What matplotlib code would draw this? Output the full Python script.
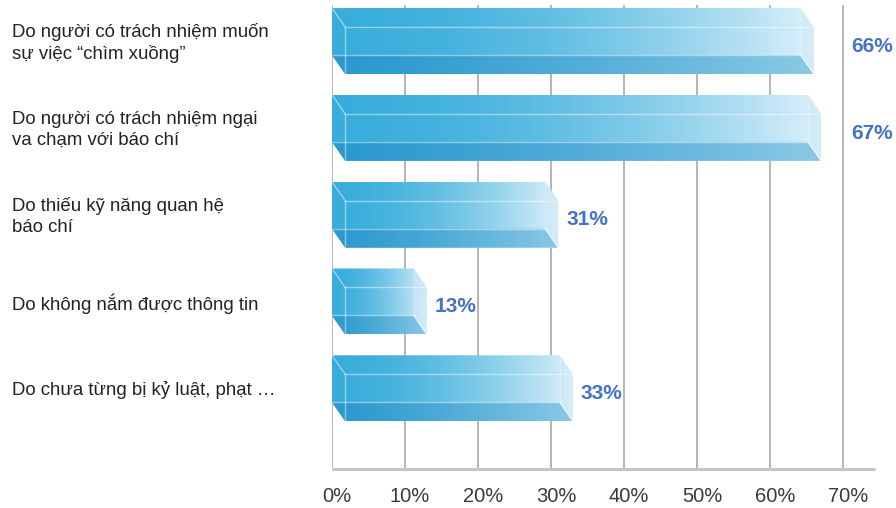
import numpy as np
import matplotlib
matplotlib.use("Agg")
import matplotlib.pyplot as plt
from matplotlib.patches import Polygon

plt.rcParams['font.family'] = ['Liberation Sans', 'DejaVu Sans']

# survey answers, top to bottom
categories = [
    "Do người có trách nhiệm muốn\nsự việc “chìm xuồng”",
    "Do người có trách nhiệm ngại\nva chạm với báo chí",
    "Do thiếu kỹ năng quan hệ\nbáo chí",
    "Do không nắm được thông tin",
    "Do chưa từng bị kỷ luật, phạt …",
]
values = [66, 67, 31, 13, 33]
ticks = [0, 10, 20, 30, 40, 50, 60, 70]
tick_labels = ["0%", "10%", "20%", "30%", "40%", "50%", "60%", "70%"]

# box geometry (x in %, y in row units)
DX = 1.8      # depth offset along x
DY = 0.219    # depth offset along y
HALF = 0.38   # half of the full box height

light_l = np.array([0.22, 0.68, 0.86])
light_r = np.array([0.86, 0.94, 0.98])
dark_l = np.array([0.17, 0.60, 0.81])
dark_r = np.array([0.54, 0.79, 0.90])


def gradient_image(c_left, c_right, power=1.7, n=256):
    t = np.linspace(0, 1, n) ** power
    row = c_left[None, :] * (1 - t[:, None]) + c_right[None, :] * t[:, None]
    return np.repeat(row[None, :, :], 2, axis=0)


def draw_box(ax, c, v):
    top, bot = c - HALF, c + HALF
    ext = [0, v, bot, top]
    outline = Polygon([(0, top), (v - DX, top), (v, top + DY), (v, bot),
                       (DX, bot), (0, bot - DY)], closed=True,
                      facecolor='none', edgecolor='none', transform=ax.transData)
    ax.add_patch(outline)
    im = ax.imshow(gradient_image(light_l, light_r), extent=ext, origin='upper',
                   aspect='auto', interpolation='bilinear', zorder=2)
    im.set_clip_path(outline)

    # bottom face seen through the front
    band = Polygon([(0, bot - DY), (v - DX, bot - DY), (v, bot), (DX, bot)],
                   closed=True, facecolor='none', edgecolor='none',
                   transform=ax.transData)
    ax.add_patch(band)
    im2 = ax.imshow(gradient_image(dark_l, dark_r, power=1.3), extent=ext,
                    origin='upper', aspect='auto', interpolation='bilinear',
                    zorder=3)
    im2.set_clip_path(band)

    # right end face
    ax.add_patch(Polygon([(v - DX, top), (v, top + DY), (v, bot), (v - DX, bot - DY)],
                         closed=True, facecolor=(0.80, 0.91, 0.96), alpha=0.45,
                         edgecolor='none', zorder=4))

    edge = dict(color='white', alpha=0.45, lw=1.0, zorder=5)
    ax.plot([0, DX], [top, top + DY], **edge)
    ax.plot([DX, v], [top + DY, top + DY], **edge)
    ax.plot([DX, DX], [top + DY, bot], **edge)
    ax.plot([0, v - DX], [bot - DY, bot - DY], **edge)
    ax.plot([v - DX, v], [bot - DY, bot], color='white', alpha=0.7, lw=1.0, zorder=5)
    ax.plot([v - DX, v - DX], [top, bot - DY], color='white', alpha=0.3, lw=0.8, zorder=5)


fig = plt.figure(figsize=(8.96, 5.08), dpi=100)
W, H = 896, 508
x0, x1 = 332, 875
y_top, y_axis = 5, 469
ax = fig.add_axes([x0 / W, 1 - y_axis / H, (x1 - x0) / W, (y_axis - y_top) / H])
xmax = 70 * (x1 - x0) / (843 - x0)
ax.set_xlim(0, xmax)
ax.set_ylim(4.93, -0.415)
ax.axis('off')

# vertical grid lines and base line
for t in ticks:
    ax.plot([t, t], [-0.415, 4.93], color='#A8A8A8', lw=1.2, zorder=1,
            solid_capstyle='butt')
ax.plot([0, xmax], [4.93, 4.93], color='#C6C6C6', lw=2.2, zorder=1,
        solid_capstyle='butt', clip_on=False)

for t, lab in zip(ticks, tick_labels):
    ax.annotate(lab, (t, 4.93), xytext=(5, -28), textcoords='offset pixels',
                ha='center', va='center', fontsize=14.5, color='#3a3a3a',
                annotation_clip=False)

for k, (cat, v) in enumerate(zip(categories, values)):
    draw_box(ax, k, v)
    # long bars get their label past the last grid line
    lx = v + 1.1 if v < 60 else 71.1
    ax.text(lx, k + 0.06, f"{v}%", ha='left', va='center', fontsize=15,
            fontweight='bold', color='#4472C4', zorder=6)
    fig.text(12 / W, 1 - (k * 86.75 + 41 + 2) / H, cat, ha='left', va='center',
             fontsize=13.4, color='#222222', linespacing=1.3)

fig.savefig('out.png', dpi=100)
